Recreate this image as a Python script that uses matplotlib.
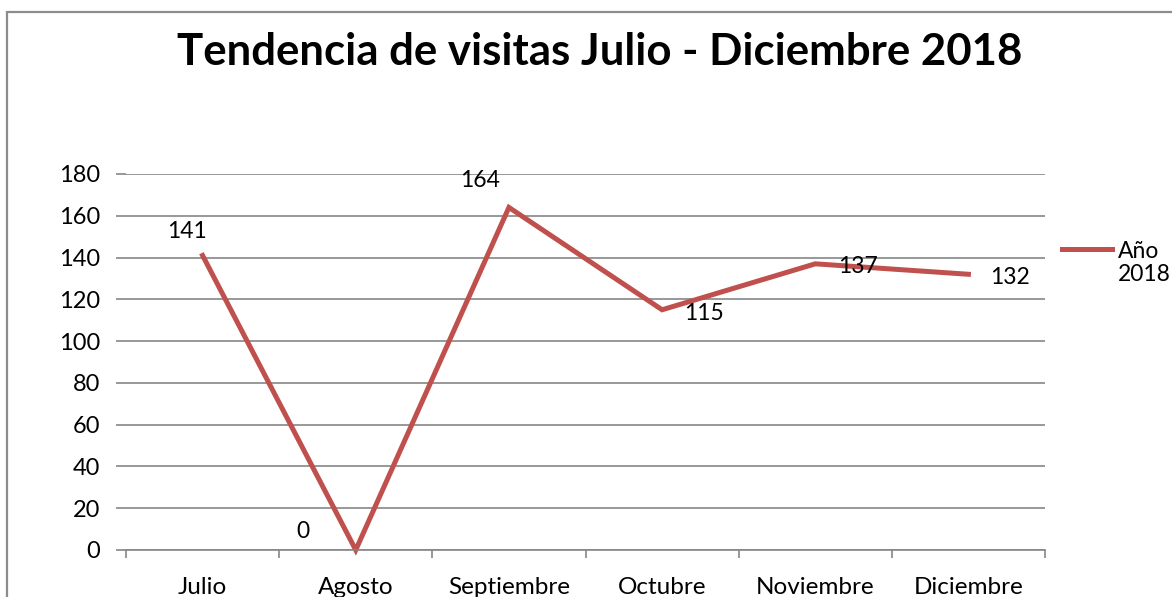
import matplotlib
matplotlib.use("Agg")
import matplotlib.pyplot as plt
from matplotlib.patches import Rectangle
import numpy as np

months = ["Julio", "Agosto", "Septiembre", "Octubre", "Noviembre", "Diciembre"]
visits = [141, 0, 164, 115, 137, 132]
yticks = list(range(0, 181, 20))

# where Excel put each data label, relative to its point (pixels, +y = up)
label_offsets = [(-16, 24), (-53, 19), (-29, 27), (42, -4), (43, -3), (42, -3)]

plt.rcParams["font.family"] = ["Lato", "DejaVu Sans"]
W, H = 1172, 597
fig = plt.figure(figsize=(W / 100, H / 100), dpi=100)
ax = fig.add_axes([126 / W, 1 - 550 / H, (1045 - 126) / W, (550 - 174) / H])

red = "#C0504D"
grid_c = "#868686"
x = np.arange(len(months))
ax.plot(x, visits, color=red, lw=3.6, solid_joinstyle="miter", clip_on=False)

for xi, v, (dx, dy) in zip(x, visits, label_offsets):
    ax.annotate(str(v), (xi, v), xytext=(dx * 0.72, dy * 0.72), textcoords="offset points",
                ha="center", va="center", fontsize=16.5)

ax.set_xlim(-0.5, len(months) - 0.5)
ax.set_ylim(0, 180)
ax.set_yticks(yticks)
ax.set_yticklabels([str(t) for t in yticks], fontsize=17)
ax.yaxis.grid(True, color=grid_c, lw=1.2)
ax.set_axisbelow(True)
ax.tick_params(axis="y", length=7, color=grid_c, width=1.2, pad=11.5)

ax.set_xticks(x)
ax.set_xticklabels(months, fontsize=17.5)
ax.set_xticks(np.arange(-0.5, len(months)), minor=True)
ax.tick_params(axis="x", which="major", length=0, pad=19.5)
ax.tick_params(axis="x", which="minor", length=6, color=grid_c, width=1.2)

for s in ["top", "right", "left"]:
    ax.spines[s].set_visible(False)
ax.spines["bottom"].set_color(grid_c)
ax.spines["bottom"].set_linewidth(1.2)

fig.text(600 / W, 1 - 65 / H, "Tendencia de visitas Julio - Diciembre 2018",
         ha="center", va="baseline", fontsize=31.5, fontweight="bold")

# legend drawn manually at the right edge
fig.add_artist(plt.Line2D([1062 / W, 1112 / W], [1 - 249 / H, 1 - 249 / H],
                          color=red, lw=3.6, transform=fig.transFigure))
fig.text(1118 / W, 1 - 263 / H, "Año\n2018", ha="left", va="center",
         fontsize=16.5, linespacing=1.1)

# chart border
fig.add_artist(Rectangle((7 / W, -0.1), 1.2, 1.1 - 12 / H, transform=fig.transFigure,
                         fill=False, edgecolor="#8c8c8c", lw=1.6))

fig.savefig("out.png", dpi=100)
